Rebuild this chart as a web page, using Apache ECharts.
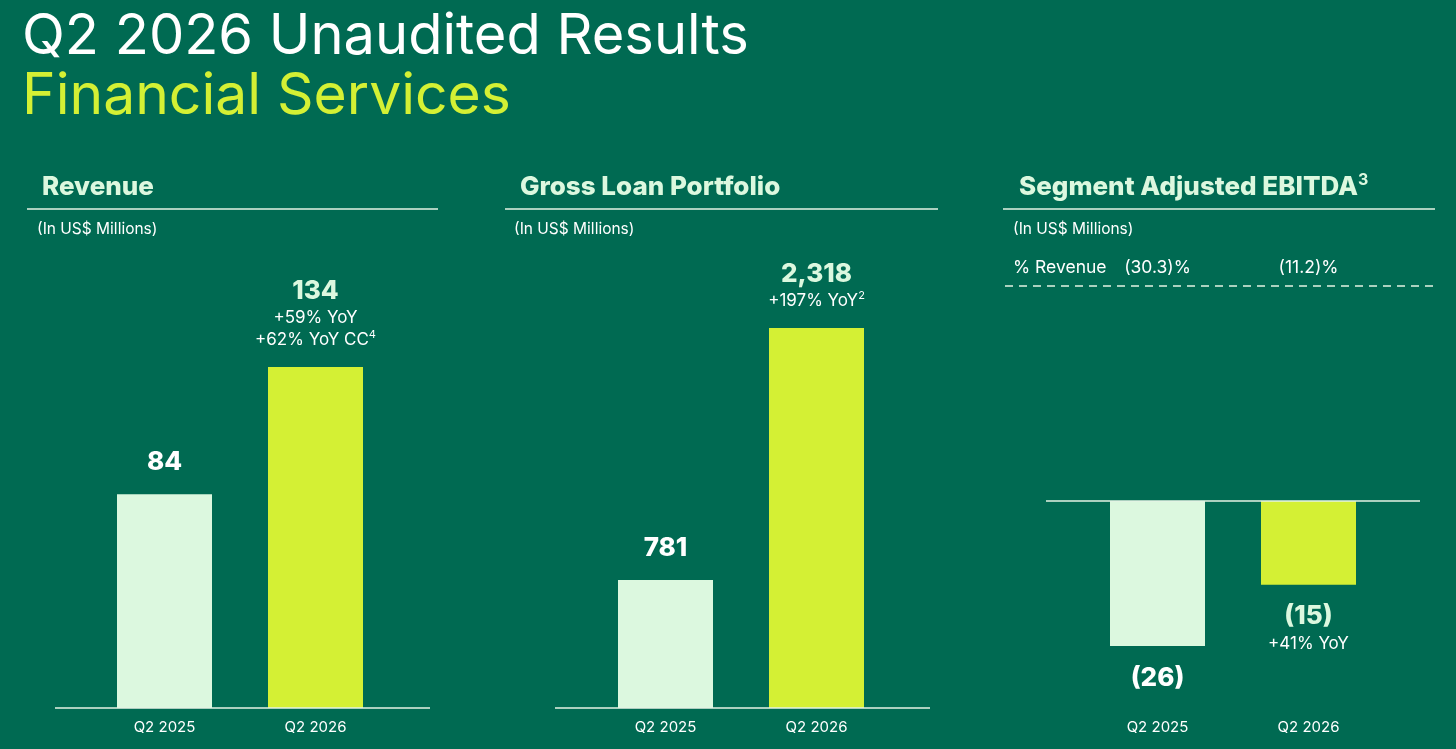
<!DOCTYPE html>
<html>
<head>
<meta charset="utf-8">
<script src="https://cdn.jsdelivr.net/npm/echarts@6/dist/echarts.min.js"></script>
<style>
    html, body { margin: 0; padding: 0; background: #006a52; }
    #chart { width: 1456px; height: 749px; }
</style>
</head>
<body>
<div id="chart"></div>
<script>
// 数据
const categories = ['Q2 2025', 'Q2 2026'];
const revenue = [84, 134];
const revenueNotes = [[], ['+59% YoY', '+62% YoY CC⁴']];
const loans = [781, 2318];
const loanNotes = [[], ['+197% YoY²']];
const ebitda = [-26, -15];
const ebitdaNotes = [[], ['+41% YoY']];
const ebitdaMargin = ['(30.3)%', '(11.2)%'];

const BG = '#006a52';
const LIGHT = '#dcf8df';
const LIME = '#d4f034';
const LINE = '#e4f3e4';
const FONT = 'Inter, "Noto Sans", sans-serif';
const SUP = { '²': '2', '³': '3', '⁴': '4' };

document.addEventListener('DOMContentLoaded', function () {
    initChart();
});

// 上标字符 -> rich 片段
function supRich(str, key) {
    return '{' + key + '|' + str.replace(/[²³⁴]/g, c => '}{sup|' + SUP[c] + '}{' + key + '|') + '}';
}

// 标签: 大数字 + 说明行
function makeLabel(fmt, notes) {
    return function (p) {
        const key = p.dataIndex === 0 ? 'a' : 'b';
        const lines = ['{' + key + '|' + fmt(p.value) + '}'];
        notes[p.dataIndex].forEach(n => lines.push(supRich(n, 's')));
        return lines.join('\n');
    };
}

const richStyle = {
    a: { fontFamily: FONT, fontSize: 26, fontWeight: 800, color: '#ffffff', lineHeight: 32 },
    b: { fontFamily: FONT, fontSize: 26, fontWeight: 800, color: LIGHT, lineHeight: 32 },
    s: { fontFamily: FONT, fontSize: 17, color: '#ffffff', lineHeight: 22 },
    sup: { fontFamily: FONT, fontSize: 11, color: '#ffffff', lineHeight: 12, verticalAlign: 'top' }
};

function catAxis(gridIndex, extra) {
    return Object.assign({
        type: 'category',
        gridIndex: gridIndex,
        data: categories,
        axisLine: { show: false, onZero: false },
        axisTick: { show: false },
        axisLabel: { color: '#ffffff', fontFamily: FONT, fontSize: 15, margin: 12 }
    }, extra || {});
}

function valAxis(gridIndex, extra) {
    return Object.assign({
        type: 'value',
        gridIndex: gridIndex,
        show: false,
        splitLine: { show: false }
    }, extra || {});
}

function barSeries(idx, data, fmt, notes, position) {
    return {
        type: 'bar',
        xAxisIndex: idx,
        yAxisIndex: idx,
        barWidth: 95,
        data: data.map((v, i) => ({
            value: v,
            itemStyle: { color: i === 0 ? LIGHT : LIME }
        })),
        label: {
            show: true,
            position: position,
            distance: 16,
            formatter: makeLabel(fmt, notes),
            rich: richStyle
        },
        silent: true
    };
}

function text(t, x, y, font, fill) {
    return {
        type: 'text',
        style: { text: t, x: x, y: y, font: font, fill: fill, verticalAlign: 'middle' }
    };
}

// 小标题 (带上标)
function header(t, x, y) {
    return {
        type: 'text',
        style: {
            text: supRich(t, 'h'),
            x: x, y: y, verticalAlign: 'middle',
            fill: LIGHT,
            rich: {
                h: { fontFamily: FONT, fontSize: 26, fontWeight: 800, fill: LIGHT, lineHeight: 30 },
                sup: { fontFamily: FONT, fontSize: 16, fontWeight: 700, fill: LIGHT, lineHeight: 16, verticalAlign: 'top' }
            }
        }
    };
}

function line(x1, y1, x2, y2, dash) {
    return {
        type: 'line',
        shape: { x1: x1, y1: y1, x2: x2, y2: y2 },
        style: { stroke: LINE, lineWidth: 1.5, lineDash: dash || null },
        z: 10
    };
}

function initChart() {
    const chartDom = document.getElementById('chart');
    const myChart = echarts.init(chartDom);

    const option = {
        backgroundColor: BG,
        animation: false,
        grid: [
            { left: 89, width: 302, top: 367, bottom: 41 },
            { left: 590, width: 302, top: 328, bottom: 41 },
            { left: 1082, width: 302, top: 501, height: 145 }
        ],
        xAxis: [
            catAxis(0),
            catAxis(1),
            catAxis(2, { position: 'bottom', axisLabel: { color: '#ffffff', fontFamily: FONT, fontSize: 15, margin: 74 } }),
            catAxis(2, {
                position: 'top',
                axisLabel: {
                    color: '#ffffff', fontFamily: FONT, fontSize: 17.5, margin: 224,
                    formatter: (v, i) => ebitdaMargin[i]
                }
            })
        ],
        yAxis: [
            valAxis(0, { min: 0, max: v => v.max }),
            valAxis(1, { min: 0, max: v => v.max }),
            valAxis(2, { min: v => v.min, max: 0 }),
            valAxis(2, { min: v => v.min, max: 0 })
        ],
        series: [
            barSeries(0, revenue, v => String(v), revenueNotes, 'top'),
            barSeries(1, loans, v => v.toLocaleString('en-US'), loanNotes, 'top'),
            barSeries(2, ebitda, v => '(' + Math.abs(v) + ')', ebitdaNotes, 'bottom')
        ],
        graphic: [
            text('Q2 2026 Unaudited Results', 22, 37, '56px ' + FONT, '#ffffff'),
            text('Financial Services', 22, 97, '57px ' + FONT, LIME),

            header('Revenue', 42, 187),
            line(27, 209, 438, 209),
            text('(In US$ Millions)', 37, 229, '15.5px ' + FONT, '#ffffff'),

            header('Gross Loan Portfolio', 520, 187),
            line(505, 209, 938, 209),
            text('(In US$ Millions)', 514, 229, '15.5px ' + FONT, '#ffffff'),

            header('Segment Adjusted EBITDA³', 1019, 187),
            line(1003, 209, 1435, 209),
            text('(In US$ Millions)', 1013, 229, '15.5px ' + FONT, '#ffffff'),
            text('% Revenue', 1013, 268, '17.5px ' + FONT, '#ffffff'),
            line(1005, 286, 1436, 286, [8, 6]),

            // 基线
            line(55, 708, 430, 708),
            line(555, 708, 930, 708),
            line(1046, 501, 1420, 501)
        ]
    };

    myChart.setOption(option);

    window.addEventListener('resize', function () {
        myChart.resize();
    });
}
</script>
</body>
</html>
